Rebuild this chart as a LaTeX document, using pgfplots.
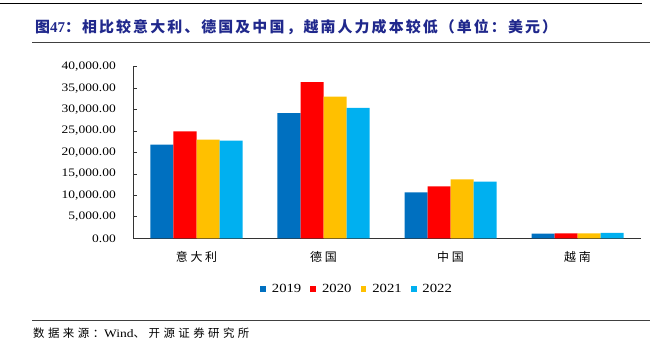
\documentclass[border=0pt]{standalone}
\usepackage{pgfplots}
\pgfplotsset{compat=1.18}
\usepackage{fontspec}
\setmainfont{Liberation Serif}
\newfontfamily\cjk{Noto Sans CJK SC}
\newfontfamily\cjkt[LetterSpace=14]{Noto Sans CJK SC}
\newfontfamily\cjkl[LetterSpace=22]{Noto Sans CJK SC}
\newfontfamily\cjks[LetterSpace=30]{Noto Sans CJK SC}
\newfontfamily\numfont[FakeStretch=1.18]{Liberation Serif}
\definecolor{c19}{HTML}{0070C0}
\definecolor{c20}{HTML}{FF0000}
\definecolor{c21}{HTML}{FFC000}
\definecolor{c22}{HTML}{00B0F0}
\definecolor{titleblue}{RGB}{32,40,140}
\begin{document}
\begin{tikzpicture}
\useasboundingbox (0,0) rectangle (668bp,-354bp);
% header / separator lines
\draw[black, line width=1bp] (0bp,-3.3bp) -- (642bp,-3.3bp);
\draw[black!75, line width=0.9bp] (32bp,-42.3bp) -- (650bp,-42.3bp);
\draw[black!75, line width=0.9bp] (32bp,-320bp) -- (650bp,-320bp);
% title
\node[anchor=west, inner sep=0pt, text=titleblue, font=\fontsize{15}{18}\selectfont\bfseries] at (35bp,-26.7bp)
  {{\cjk 图}47{\cjkt ：相比较意大利、德国及中国，越南人力成本较低（单位：美元）}};
% source
\node[anchor=west, inner sep=0pt, font=\fontsize{11.5}{14}\selectfont] at (33bp,-333bp)
  {{\cjks 数据来源：}{\numfont Wind}{\cjks 、开源证券研究所}};
\begin{axis}[
  at={(133bp,-238.3bp)}, anchor=south west,
  scale only axis, width=508bp, height=171.6bp,
  xmin=-0.5, xmax=3.5, ymin=0, ymax=40000,
  ybar=0pt, bar width=23bp,
  axis x line=bottom, axis y line=left,
  axis line style={-, black!80, line width=0.9bp},
  xtick={0,1,2,3},
  xticklabels={意大利,德国,中国,越南},
  xticklabel style={font=\cjkl\fontsize{12}{14}\selectfont, inner sep=0pt, anchor=center, yshift=-18.4bp},
  major x tick style={draw=none},
  extra x ticks={0.5,1.5,2.5,3.5},
  extra x tick labels={},
  extra x tick style={major tick length=4bp, tick style={black!80, line width=0.8bp}, tick align=inside},
  ytick={0,5000,...,40000},
  ytick style={black!80, line width=0.8bp},
  major tick length=3.5bp,
  tick align=inside,
  scaled y ticks=false,
  yticklabel style={font=\numfont\fontsize{11.5}{14}\selectfont, inner sep=0pt, anchor=east, xshift=-17bp,
    /pgf/number format/.cd, fixed, fixed zerofill, precision=2, 1000 sep={,}, assume math mode=true},
  legend style={at={(0.439,-0.2955)}, anchor=center, legend columns=4, draw=none, fill=none,
    font=\numfont\fontsize{12.5}{14}\selectfont,
    nodes={inner sep=0pt, anchor=west},
    /tikz/every odd column/.append style={column sep=6bp},
    /tikz/every even column/.append style={column sep=9bp}},
  legend cell align=left,
  legend image code/.code={\fill[#1] (0bp,-2.9bp) rectangle (5.8bp,2.9bp);},
  clip=false,
]
\addplot[fill=c19, draw=none] coordinates {(0,21820) (1,29190) (2,10710) (3,1090)};
\addplot[fill=c20, draw=none] coordinates {(0,24920) (1,36410) (2,12110) (3,1160)};
\addplot[fill=c21, draw=none] coordinates {(0,22980) (1,33000) (2,13740) (3,1160)};
\addplot[fill=c22, draw=none] coordinates {(0,22750) (1,30430) (2,13200) (3,1240)};
\legend{2019,2020,2021,2022}
\end{axis}
\end{tikzpicture}
\end{document}
